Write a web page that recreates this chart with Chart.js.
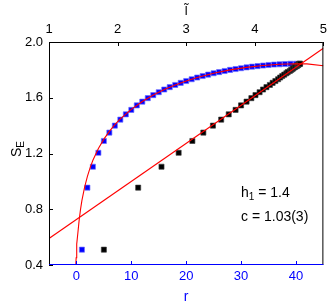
<!DOCTYPE html>
<html>
<head>
<meta charset="utf-8">
<script src="https://cdn.jsdelivr.net/npm/chart.js@4/dist/chart.umd.min.js"></script>
<style>
html,body{margin:0;padding:0;background:#fff;}
#wrap{width:332px;height:305px;position:relative;}
</style>
</head>
<body>
<div id="wrap"><canvas id="c" width="332" height="305"></canvas></div>
<script>
// ---- data ----
const rValues = [1,2,3,4,5,6,7,8,9,10,11,12,13,14,15,16,17,18,19,20,21,22,23,24,25,26,27,28,29,30,31,32,33,34,35,36,37,38,39,40];
const entropyS = [0.51,0.955,1.105,1.205,1.29,1.35,1.40,1.443,1.481,1.513,1.545,1.572,1.597,1.619,1.640,1.659,1.676,1.692,1.707,1.720,1.733,1.745,1.756,1.766,1.776,1.784,1.792,1.800,1.806,1.812,1.818,1.823,1.827,1.831,1.835,1.838,1.840,1.842,1.844,1.844];
const lTildeValues = [1.80,2.30,2.64,2.89,3.09,3.25,3.39,3.51,3.62,3.72,3.80,3.88,3.95,4.01,4.07,4.12,4.17,4.22,4.26,4.30,4.34,4.37,4.40,4.43,4.46,4.48,4.51,4.53,4.55,4.56,4.58,4.59,4.61,4.62,4.63,4.635,4.64,4.65,4.655,4.66];
const fitCurveR = [-0.115,-0.1,-0.05,0,0.1,0.25,0.5,0.75,1,1.5,2,2.5,3,4,5,6,7,8,10,12,14,16,18,20,22,25,28,31,34,37,40,42,45];
const fitCurveS = [0.395,0.412,0.452,0.488,0.550,0.626,0.724,0.801,0.863,0.961,1.036,1.099,1.151,1.236,1.303,1.359,1.407,1.448,1.517,1.573,1.619,1.659,1.692,1.720,1.745,1.776,1.800,1.818,1.831,1.840,1.844,1.843,1.830];
const fitLineL = [1,5];
const fitLineS = [0.59,1.955];
const xTicks = [0,10,20,30,40];
const xTickLabels = ['0','10','20','30','40'];
const x2Ticks = [1,2,3,4,5];
const x2TickLabels = ['1','2','3','4','5'];
const yTicks = [0.4,0.8,1.2,1.6,2.0];
const yTickLabels = ['0.4','0.8','1.2','1.6','2.0'];
const annotLines = [['h','1',' = 1.4'],['c = 1.03(3)','','']];

const FONT = "'Liberation Sans', Arial, Helvetica, sans-serif";
Chart.defaults.font.family = FONT;
Chart.defaults.font.size = 13;
const BLUE = '#0000ff';

const curveData = fitCurveR.map((r,i)=>({x:r,y:fitCurveS[i]}));
const lineData = fitLineL.map((l,i)=>({x:l,y:fitLineS[i]}));
const blueData = rValues.map((r,i)=>({x:r,y:entropyS[i]}));
const blackData = lTildeValues.map((l,i)=>({x:l,y:entropyS[i]}));

function setTicks(arr){ return s => { s.ticks = arr.map(v=>({value:v})); }; }
function labelFrom(vals, labels){ return v => { const i = vals.findIndex(t=>Math.abs(t-v)<1e-6); return i>=0?labels[i]:''; }; }

const decor = {
  id:'decor',
  afterDraw(chart){
    const {ctx, chartArea:a, scales} = chart;
    ctx.save();
    ctx.lineWidth = 1;
    // ticks
    const TL = 4;
    ctx.strokeStyle = BLUE;
    ctx.beginPath();
    xTicks.forEach(v=>{ const p=Math.round(scales.x.getPixelForValue(v))+0.5; ctx.moveTo(p,a.bottom); ctx.lineTo(p,a.bottom-TL); });
    ctx.stroke();
    ctx.strokeStyle = '#000';
    ctx.beginPath();
    x2Ticks.forEach(v=>{ const p=Math.round(scales.x2.getPixelForValue(v))+0.5; ctx.moveTo(p,a.top); ctx.lineTo(p,a.top+TL); });
    yTicks.forEach(v=>{ const p=Math.round(scales.y.getPixelForValue(v))+0.5; ctx.moveTo(a.left,p); ctx.lineTo(a.left+TL,p); });
    ctx.stroke();
    // frame
    ctx.strokeStyle = '#000';
    ctx.beginPath();
    ctx.moveTo(a.left+0.5,a.bottom); ctx.lineTo(a.left+0.5,a.top+0.5); ctx.lineTo(a.right-0.5,a.top+0.5); ctx.lineTo(a.right-0.5,a.bottom);
    ctx.stroke();
    ctx.strokeStyle = BLUE;
    ctx.beginPath();
    ctx.moveTo(a.left,a.bottom-0.5); ctx.lineTo(a.right,a.bottom-0.5);
    ctx.stroke();

    // axis titles
    ctx.fillStyle = '#000';
    ctx.textBaseline = 'alphabetic';
    // S_E rotated
    ctx.save();
    ctx.translate(21, 149);
    ctx.rotate(-Math.PI/2);
    ctx.font = '14px '+FONT;
    const wS = ctx.measureText('S').width;
    ctx.font = '10px '+FONT;
    const wE = ctx.measureText('E').width;
    const x0 = -(wS+wE)/2;
    ctx.font = '14px '+FONT;
    ctx.textAlign='left';
    ctx.fillText('S', x0, 0);
    ctx.font = '10px '+FONT;
    ctx.fillText('E', x0+wS, 3);
    ctx.restore();
    // r
    ctx.fillStyle = BLUE;
    ctx.font = '14px '+FONT;
    ctx.textAlign = 'center';
    ctx.fillText('r', (a.left+a.right)/2, 301);
    // l tilde
    ctx.fillStyle = '#000';
    ctx.font = '13px '+FONT;
    ctx.fillText('l\u0303', (a.left+a.right)/2, 15);

    // annotations
    ctx.textAlign = 'left';
    const ax = 241;
    ctx.font = '14px '+FONT;
    let x = ax;
    ctx.fillText(annotLines[0][0], x, 197); x += ctx.measureText(annotLines[0][0]).width;
    ctx.font = '10px '+FONT;
    ctx.fillText(annotLines[0][1], x, 200); x += ctx.measureText(annotLines[0][1]).width;
    ctx.font = '14px '+FONT;
    ctx.fillText(annotLines[0][2], x, 197);
    ctx.fillText(annotLines[1][0], ax, 221);
    ctx.restore();
  }
};

new Chart(document.getElementById('c'), {
  type:'scatter',
  data:{ datasets:[
    {label:'fit line', data:lineData, xAxisID:'x2', yAxisID:'y', showLine:true, borderColor:'#ff0000', borderWidth:1.1, pointRadius:0, fill:false},
    {label:'fit curve', data:curveData, xAxisID:'x', yAxisID:'y', showLine:true, borderColor:'#ff0000', borderWidth:1.1, pointRadius:0, fill:false, tension:0},
    {label:'S vs l', data:blackData, xAxisID:'x2', yAxisID:'y', pointStyle:'rect', pointRadius:3.6, backgroundColor:'#000', borderColor:'rgba(60,60,60,0.8)', borderWidth:0.8},
    {label:'S vs r', data:blueData, xAxisID:'x', yAxisID:'y', pointStyle:'rect', pointRadius:3.6, backgroundColor:BLUE, borderColor:'rgba(110,110,255,0.85)', borderWidth:0.8}
  ]},
  options:{
    responsive:false, animation:false, events:[],
    layout:{padding:{left:0,right:6,top:0,bottom:0}},
    plugins:{legend:{display:false}, tooltip:{enabled:false}},
    scales:{
      x:{type:'linear', position:'bottom', min:-5, max:45,
         grid:{display:false, drawTicks:false}, border:{display:false},
         afterBuildTicks:setTicks(xTicks),
         afterFit:s=>{s.height=40;},
         ticks:{color:BLUE, padding:4, maxRotation:0, autoSkip:false, callback:labelFrom(xTicks,xTickLabels)}},
      x2:{type:'linear', position:'top', min:1, max:5,
         grid:{display:false, drawTicks:false}, border:{display:false},
         afterBuildTicks:setTicks(x2Ticks),
         afterFit:s=>{s.height=42;},
         ticks:{color:'#000', padding:5, maxRotation:0, autoSkip:false, callback:labelFrom(x2Ticks,x2TickLabels)}},
      y:{type:'linear', position:'left', min:0.4, max:2.0,
         grid:{display:false, drawTicks:false}, border:{display:false},
         afterBuildTicks:setTicks(yTicks),
         afterFit:s=>{s.width=49;},
         ticks:{color:'#000', padding:6, autoSkip:false, callback:labelFrom(yTicks,yTickLabels)}}
    }
  },
  plugins:[decor]
});
</script>
</body>
</html>
